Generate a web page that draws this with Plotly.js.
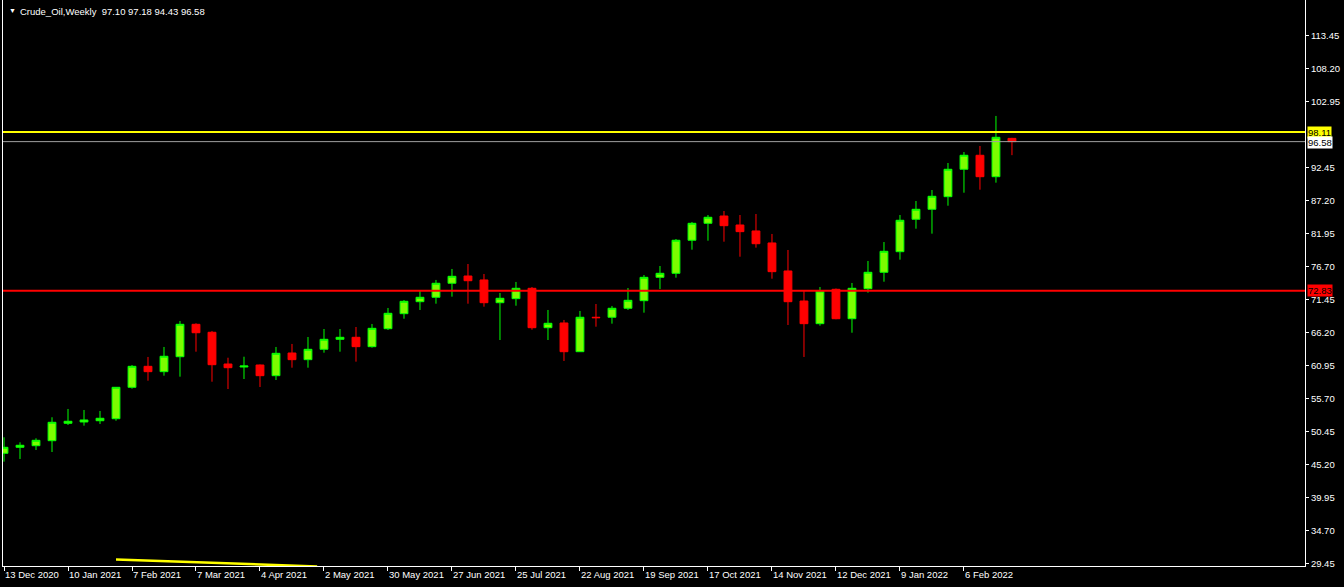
<!DOCTYPE html>
<html>
<head>
<meta charset="utf-8">
<script src="https://cdn.plot.ly/plotly-3.0.1.min.js"></script>
<style>
html,body{margin:0;padding:0;background:#000;}
#chart{width:1344px;height:587px;}
</style>
</head>
<body>
<div id="chart"></div>
<script>
// Weekly bars (week start, Sunday)
const weeks = [
 '2020-12-13','2020-12-20','2020-12-27','2021-01-03','2021-01-10','2021-01-17','2021-01-24','2021-01-31',
 '2021-02-07','2021-02-14','2021-02-21','2021-02-28','2021-03-07','2021-03-14','2021-03-21','2021-03-28',
 '2021-04-04','2021-04-11','2021-04-18','2021-04-25','2021-05-02','2021-05-09','2021-05-16','2021-05-23',
 '2021-05-30','2021-06-06','2021-06-13','2021-06-20','2021-06-27','2021-07-04','2021-07-11','2021-07-18',
 '2021-07-25','2021-08-01','2021-08-08','2021-08-15','2021-08-22','2021-08-29','2021-09-05','2021-09-12',
 '2021-09-19','2021-09-26','2021-10-03','2021-10-10','2021-10-17','2021-10-24','2021-10-31','2021-11-07',
 '2021-11-14','2021-11-21','2021-11-28','2021-12-05','2021-12-12','2021-12-19','2021-12-26','2022-01-02',
 '2022-01-09','2022-01-16','2022-01-23','2022-01-30','2022-02-06','2022-02-13','2022-02-20','2022-02-27'
];
const openP = [
 46.96,47.92,48.17,48.97,51.74,51.95,52.15,52.47,
 57.47,60.81,59.96,62.34,67.50,66.23,61.18,60.70,
 61.02,59.32,62.93,61.87,63.52,65.11,65.43,63.94,
 66.80,69.19,71.10,71.80,74.03,75.19,74.56,70.94,
 71.58,73.23,66.96,67.71,63.14,68.62,68.62,70.05,
 71.26,74.98,75.62,80.88,83.58,84.74,83.31,82.36,
 80.45,75.99,71.21,67.60,73.07,68.39,73.17,75.78,
 79.06,84.22,85.81,87.82,92.18,94.41,91.00,97.10
];
const highP = [
 49.51,48.71,49.35,52.70,54.02,53.86,53.70,57.50,
 61.02,62.30,63.89,68.03,67.66,66.44,62.18,62.34,
 61.10,63.89,64.37,65.48,66.75,66.75,67.07,67.55,
 70.10,71.37,72.80,74.56,76.31,77.10,75.51,72.49,
 74.24,73.44,69.78,68.19,69.62,70.73,70.42,73.28,
 75.35,76.78,81.08,83.79,84.90,85.54,84.90,85.06,
 81.88,79.33,72.96,73.44,73.20,74.08,77.58,80.60,
 84.90,87.13,88.88,93.18,94.93,95.89,100.67,97.18
];
const lowP = [
 45.63,46.06,47.49,47.17,51.47,51.36,51.63,52.15,
 57.25,58.52,59.32,59.16,63.14,58.36,57.20,58.79,
 57.52,58.63,60.59,60.59,62.98,63.14,61.55,63.78,
 66.59,68.39,69.78,70.78,71.90,70.78,70.30,65.00,
 70.46,66.64,65.00,61.66,63.10,67.12,67.60,69.78,
 69.35,73.12,74.92,79.38,80.81,80.65,78.26,79.70,
 74.76,67.39,62.30,67.28,68.30,66.16,72.53,74.28,
 77.79,82.72,81.93,86.38,88.45,88.93,90.05,94.43
];
const closeP = [
 47.92,48.24,49.03,51.90,52.06,52.27,52.54,57.47,
 60.81,59.96,62.41,67.50,66.16,61.07,60.59,60.86,
 59.32,62.88,61.87,63.52,65.11,65.43,63.94,66.86,
 69.25,71.16,71.80,74.03,75.14,74.44,70.94,71.64,
 73.23,66.96,67.66,63.14,68.62,68.55,70.05,71.32,
 74.98,75.62,80.88,83.58,84.54,83.20,82.25,80.33,
 75.88,71.10,67.60,72.80,68.39,73.23,75.78,79.12,
 84.06,85.81,87.88,92.18,94.41,91.00,97.27,96.58
];

// Horizontal levels
const resistanceLevel = 98.11;
const supportLevel = 72.83;
const bidLevel = 96.58;

// Partial trend line visible at the bottom
const trendX = ['2021-01-31','2021-04-29'];
const trendY = [30.05, 28.95];

// Axis ticks
const xTickVals = ['2020-12-13','2021-01-10','2021-02-07','2021-03-07','2021-04-04','2021-05-02','2021-05-30',
 '2021-06-27','2021-07-25','2021-08-22','2021-09-19','2021-10-17','2021-11-14','2021-12-12','2022-01-09','2022-02-06'];
const xTickText = ['13 Dec 2020','10 Jan 2021','7 Feb 2021','7 Mar 2021','4 Apr 2021','2 May 2021','30 May 2021',
 '27 Jun 2021','25 Jul 2021','22 Aug 2021','19 Sep 2021','17 Oct 2021','14 Nov 2021','12 Dec 2021','9 Jan 2022','6 Feb 2022'];
const yTickVals = [29.45,34.70,39.95,45.20,50.45,55.70,60.95,66.20,71.45,76.70,81.95,87.20,92.45,102.95,108.20,113.45];

const titleText = 'Crude_Oil,Weekly\u00a0\u00a097.10 97.18 94.43 96.58';

const FONT = 'Liberation Sans, Arial, sans-serif';

const traces = [
 {
  type:'candlestick', x:weeks, open:openP, high:highP, low:lowP, close:closeP,
  increasing:{line:{color:'#00ff00', width:1}, fillcolor:'#7cfc00'},
  decreasing:{line:{color:'#ff0000', width:1}, fillcolor:'#ff0000'},
  whiskerwidth:0, hoverinfo:'skip', showlegend:false
 },
 {
  type:'scatter', mode:'lines', x:trendX, y:trendY,
  line:{color:'#ffff00', width:2.5}, hoverinfo:'skip', showlegend:false
 }
];

const layout = {
 width:1344, height:587,
 paper_bgcolor:'#000000', plot_bgcolor:'#000000',
 margin:{l:3, r:39, t:0, b:21},
 showlegend:false,
 boxgap:0.3,
 xaxis:{
  type:'date', range:['2020-12-12 13:30','2022-07-05 05:00'],
  rangeslider:{visible:false}, fixedrange:true,
  showgrid:false, zeroline:false,
  showline:true, linecolor:'#ffffff', linewidth:1, mirror:false,
  ticks:'outside', ticklen:4, tickcolor:'#ffffff', tickwidth:1,
  tickmode:'array', tickvals:xTickVals, ticktext:xTickText,
  ticklabelposition:'outside right',
  tickfont:{family:FONT, size:9.5, color:'#ffffff'}
 },
 yaxis:{
  side:'right', range:[29.02,119.13], fixedrange:true,
  showgrid:false, zeroline:false,
  showline:true, linecolor:'#ffffff', linewidth:1, mirror:true,
  ticks:'outside', ticklen:3, tickcolor:'#ffffff', tickwidth:1,
  tickmode:'array', tickvals:yTickVals, ticktext:yTickVals.map(v=>v.toFixed(2)),
  tickfont:{family:FONT, size:9.5, color:'#ffffff'}
 },
 shapes:[
  {type:'line', xref:'paper', x0:0, x1:1, yref:'y', y0:bidLevel, y1:bidLevel, line:{color:'#a0a0a0', width:1}},
  {type:'line', xref:'paper', x0:0, x1:1, yref:'y', y0:resistanceLevel, y1:resistanceLevel, line:{color:'#ffff00', width:2}},
  {type:'line', xref:'paper', x0:0, x1:1, yref:'y', y0:supportLevel, y1:supportLevel, line:{color:'#ff0000', width:2}}
 ],
 annotations:[
  {xref:'paper', yref:'paper', x:0, y:1, xshift:4, yshift:-5, xanchor:'left', yanchor:'top', showarrow:false,
   text:'\u25BC', font:{family:FONT, size:7, color:'#ffffff'}},
  {xref:'paper', yref:'paper', x:0, y:1, xshift:15, yshift:-4, xanchor:'left', yanchor:'top', showarrow:false,
   text:titleText, font:{family:FONT, size:9.5, color:'#ffffff'}},
  {xref:'paper', yref:'y', x:1, y:resistanceLevel, xshift:2, xanchor:'left', yanchor:'middle', showarrow:false,
   text:resistanceLevel.toFixed(2), bgcolor:'#ffff00', borderpad:0, font:{family:FONT, size:9.5, color:'#000000'}},
  {xref:'paper', yref:'y', x:1, y:bidLevel, xshift:2, yshift:-1, xanchor:'left', yanchor:'middle', showarrow:false,
   text:bidLevel.toFixed(2), bgcolor:'#ffffff', borderpad:0, font:{family:FONT, size:9.5, color:'#000000'}},
  {xref:'paper', yref:'y', x:1, y:supportLevel, xshift:2, xanchor:'left', yanchor:'middle', showarrow:false,
   text:supportLevel.toFixed(2), bgcolor:'#ff0000', borderpad:0, font:{family:FONT, size:9.5, color:'#000000'}}
 ]
};

Plotly.newPlot('chart', traces, layout, {staticPlot:true, displayModeBar:false});
</script>
</body>
</html>
